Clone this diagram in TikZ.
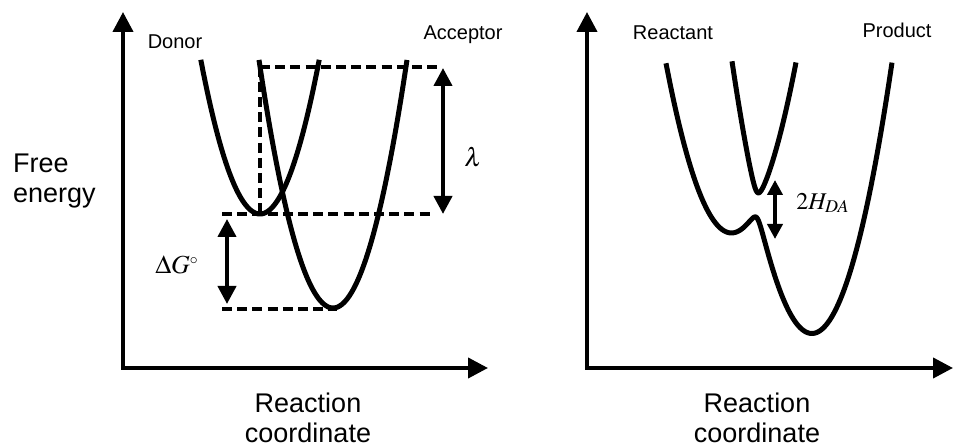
\documentclass[tikz,border=0pt]{standalone}
\usepackage{amsmath,amssymb}
\usepackage{mathptmx}
\usepackage{fontspec}
\setsansfont{Liberation Sans}
\usepackage{tikz}
\usetikzlibrary{arrows.meta,calc,positioning}
\tikzset{
  axis/.style={line width=2pt,{Triangle[width=10pt,length=10pt]}-{Triangle[width=10pt,length=10pt]}},
  curve/.style={line width=2.5pt,black,smooth},
  guide/.style={line width=2pt,dash pattern=on 5pt off 2.6pt},
  gap/.style={line width=2pt,{Triangle[width=9pt,length=9pt]}-{Triangle[width=9pt,length=9pt]}},
  smallgap/.style={line width=2pt,{Triangle[width=7.5pt,length=7.5pt]}-{Triangle[width=7.5pt,length=7.5pt]}},
  biglabel/.style={font=\sffamily\fontsize{13.5}{15}\selectfont,align=center},
  statelabel/.style={font=\sffamily\fontsize{10}{12}\selectfont},
  mathlabel/.style={font=\fontsize{13}{15}\selectfont}
}

\begin{document}
\begin{tikzpicture}[x=5pt,y=-5pt,
  declare function={
    dn(\x)=21.4-0.44*(\x-26)^2;
    ac(\x)=30.8-0.453*(\x-33.3)^2;
    yr(\x)=23.2-0.4*(\x-73.1)^2;
    yp(\x)=33.3-0.423*(\x-81.2)^2;
    hda=1.3;
  }]
  \useasboundingbox (0,0) rectangle (95.3,44.7);
  % Marcus picture: donor and acceptor parabolas
  \begin{scope}
    \coordinate (ytop) at (12.3,1.2);
    \coordinate (orig) at (12.3,36.8);
    \coordinate (xend) at (48.8,36.8);
    \draw[axis] (ytop) -- (orig) -- (xend);
    \node[anchor=west,align=left,font=\sffamily\fontsize{13.5}{15}\selectfont] (fe) at (0.6,18.1) {Free\\energy};
    \node[biglabel] (rc) at (30.8,41.8) {Reaction\\coordinate};
    \node[statelabel] (don) at (17.5,4.2) {Donor};
    \node[statelabel] (acc) at (46.3,3.5) {Acceptor};
    \draw[curve] plot[domain=20.08:31.92,samples=80] (\x,{dn(\x)});
    \draw[curve] plot[domain=25.9:40.7,samples=80] (\x,{ac(\x)});
    \coordinate (dmin) at (26,21.4);
    \coordinate (amin) at (33.3,30.9);
    \coordinate (vtop) at (26,{ac(26)});
    \coordinate (ltop) at (44.0,{ac(26)});
    \coordinate (lmid) at (43.3,21.4);
    \coordinate (gmid) at (22.2,21.4);
    \coordinate (glow) at (22.2,30.9);
    \draw[guide] (vtop) -- (ltop);
    \draw[guide] (vtop) -- (dmin);
    \draw[guide] (gmid) -- (lmid);
    \draw[guide] (glow) -- ($(amin)+(0.4,0)$);
    \coordinate (lama) at (44.3,6.8);
    \coordinate (lamb) at (44.3,21.4);
    \draw[gap] (lama) -- (lamb);
    \node[mathlabel] (lam) at (47.3,15.7) {$\lambda$};
    \coordinate (dga) at (22.7,21.9);
    \coordinate (dgb) at (22.7,30.4);
    \draw[gap] (dga) -- (dgb);
    \node[mathlabel] (dg) at (17.7,26.5) {$\Delta G^{\scriptscriptstyle\circ}$};
  \end{scope}
  % adiabatic picture: split surfaces
  \begin{scope}
    \coordinate (ytop2) at (58.7,1.2);
    \coordinate (orig2) at (58.7,36.8);
    \coordinate (xend2) at (95.3,36.8);
    \draw[axis] (ytop2) -- (orig2) -- (xend2);
    \node[biglabel] (rc2) at (75.7,41.8) {Reaction\\coordinate};
    \node[statelabel] (rea) at (67.3,3.3) {Reactant};
    \node[statelabel] (pro) at (89.7,3.0) {Product};
    \draw[curve] plot[domain=66.6:89.2,samples=300]
      (\x,{(yr(\x)+yp(\x))/2+sqrt(((yr(\x)-yp(\x))/2)^2+hda^2)});
    \draw[curve] plot[domain=73.2:79.6,samples=200]
      (\x,{(yr(\x)+yp(\x))/2-sqrt(((yr(\x)-yp(\x))/2)^2+hda^2)});
    \coordinate (ha) at (77.5,18.0);
    \coordinate (hb) at (77.5,23.9);
    \draw[smallgap] (ha) -- (hb);
    \node[font=\fontsize{12}{14}\selectfont] (hlab) at (82.3,20.3) {$2H_{DA}$};
  \end{scope}
\end{tikzpicture}
\end{document}
